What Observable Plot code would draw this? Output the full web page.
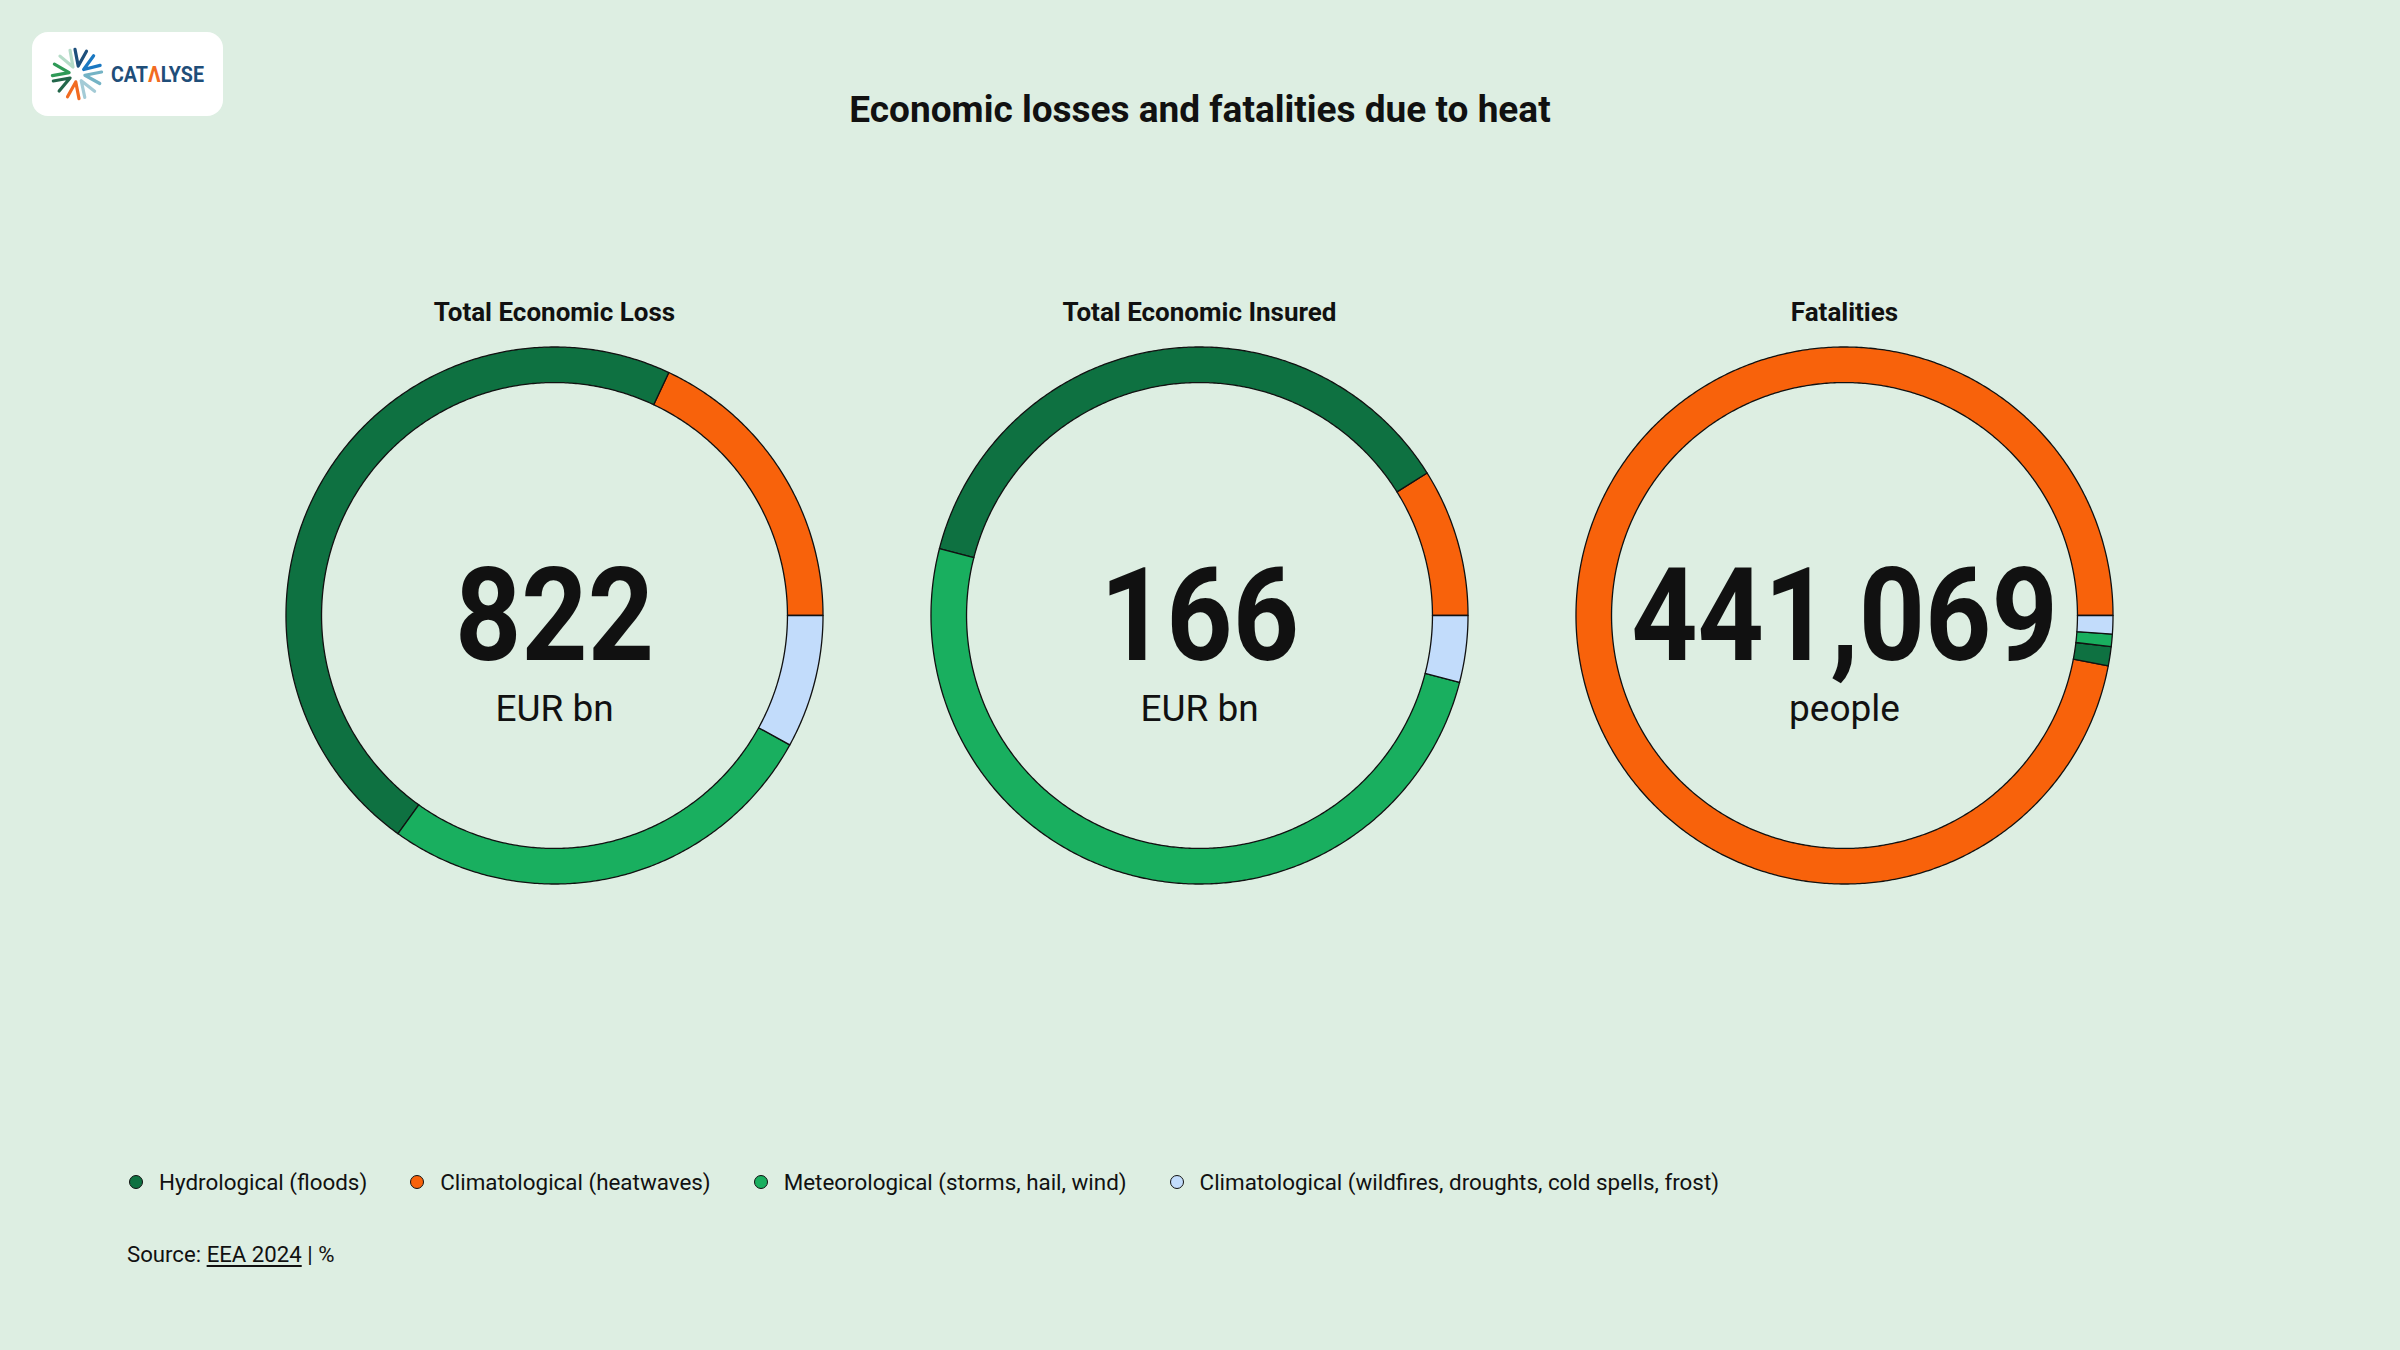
<!DOCTYPE html>
<html>
<head>
<meta charset="utf-8">
<script src="https://cdn.jsdelivr.net/npm/d3@7"></script>
<script src="https://cdn.jsdelivr.net/npm/@observablehq/plot@0.6"></script>
<style>
html, body { margin: 0; padding: 0; }
body { width: 2400px; height: 1350px; background: #ddeee2; position: relative; overflow: hidden; font-family: Roboto, sans-serif; color: #111; }
#logo { position: absolute; left: 32px; top: 32px; width: 191px; height: 84px; background: #fff; border-radius: 16px; }
#title { position: absolute; left: 0; width: 2400px; top: 91px; text-align: center; font-size: 37px; line-height: 37px; font-weight: 700; }
#chart { position: absolute; left: 0; top: 240px; }
#legend { position: absolute; left: 129px; top: 1171px; display: flex; align-items: center; height: 22px; font-size: 22.4px; line-height: 22px; }
.item { display: flex; align-items: center; margin-right: 43px; }
.dot { width: 12px; height: 12px; border-radius: 50%; border: 1.6px solid #111; margin-right: 16px; }
#source { position: absolute; left: 127px; top: 1243px; font-size: 22.2px; line-height: 22px; }
#source u { text-decoration-thickness: 2px; text-underline-offset: 3px; }
</style>
</head>
<body>
<div id="logo"></div>
<div id="title">Economic losses and fatalities due to heat</div>
<div id="chart"></div>
<div id="legend"></div>
<div id="source">Source: <u>EEA 2024</u> | %</div>
<script>
// ---- data ----
const panels = ["Total Economic Loss", "Total Economic Insured", "Fatalities"];
const totals = [822, 166, 441069];
const units = ["EUR bn", "EUR bn", "people"];
const categories = [
  "Hydrological (floods)",
  "Climatological (heatwaves)",
  "Meteorological (storms, hail, wind)",
  "Climatological (wildfires, droughts, cold spells, frost)"
];
const colors = ["#0e7141", "#f8620b", "#19af5f", "#c2dcfb"];
// slice order, counter-clockwise from 3 o'clock
const drawOrder = [1, 0, 2, 3];
const lossShares = [47.1, 18.0, 26.9, 8.0];
const insuredShares = [37.1, 8.9, 50.0, 4.0];
const fatalityShares = [1.15, 97.0, 0.75, 1.1];
const shares = [lossShares, insuredShares, fatalityShares];

// ---- ring geometry (in scale units) ----
const outerR = 0.959, innerR = 0.832;
const pts = [];
panels.forEach((panel, p) => {
  const vals = shares[p];
  const total = d3.sum(vals);
  let a = 0;
  drawOrder.forEach(ci => {
    const a0 = a, a1 = a + vals[ci] / total * 2 * Math.PI;
    a = a1;
    const n = Math.max(2, Math.ceil((a1 - a0) / (Math.PI / 360)));
    const key = panel + "|" + categories[ci];
    for (let i = 0; i <= n; i++) {
      const t = a0 + (a1 - a0) * i / n;
      pts.push({panel, category: categories[ci], key, x: outerR * Math.cos(t), y: outerR * Math.sin(t)});
    }
    for (let i = n; i >= 0; i--) {
      const t = a0 + (a1 - a0) * i / n;
      pts.push({panel, category: categories[ci], key, x: innerR * Math.cos(t), y: innerR * Math.sin(t)});
    }
  });
});
const centre = panels.map((panel, i) => ({panel, total: totals[i], unit: units[i]}));

const plot = Plot.plot({
  width: 2400,
  height: 670,
  marginTop: 95,
  marginBottom: 15,
  marginLeft: 274,
  marginRight: 276,
  style: {background: "transparent", fontFamily: "Roboto, sans-serif", color: "#111", overflow: "visible"},
  x: {domain: [-1, 1], axis: null},
  y: {domain: [-1, 1], axis: null},
  fx: {domain: panels, paddingInner: 85 / 645, paddingOuter: 0, label: null},
  color: {domain: categories, range: colors},
  marks: [
    Plot.axisFx({anchor: "top", tickSize: 0, tickPadding: 15, fontSize: 26, fontWeight: 700, label: null}),
    Plot.line(pts, {fx: "panel", x: "x", y: "y", z: "key", fill: "category", stroke: "#111", strokeWidth: 1.3, curve: "linear-closed"}),
    Plot.text(centre, {fx: "panel", frameAnchor: "middle", text: d => d3.format(",")(d.total), fontSize: 130, fontWeight: 700, dy: 3}),
    Plot.text(centre, {fx: "panel", frameAnchor: "middle", text: "unit", fontSize: 37, dy: 94})
  ]
});
// condensed look for the big centre numbers
d3.select(plot).selectAll("g[font-size='130'] text").each(function() {
  const tr = this.getAttribute("transform") || "";
  this.setAttribute("transform", tr + " scale(0.89,1)");
});
document.getElementById("chart").appendChild(plot);

// ---- legend ----
const legend = d3.select("#legend");
categories.forEach((c, i) => {
  const it = legend.append("div").attr("class", "item");
  it.append("div").attr("class", "dot").style("background", colors[i]);
  it.append("span").text(c);
});

// ---- logo ----
const logo = d3.select("#logo").append("svg").attr("width", 191).attr("height", 84);
const chevrons = [
  ["#b5dcc8", 120], ["#1d4f7c", 81], ["#1a78c2", 34], ["#74b3c5", -9],
  ["#a4cbd6", -58], ["#f26b21", -99], ["#23664a", -150], ["#2f9a57", 170]
];
const cx = 45, cy = 42;
chevrons.forEach(([col, deg]) => {
  const th = deg * Math.PI / 180, r0 = 8, L = 17, h = 20 * Math.PI / 180;
  const vx = cx + r0 * Math.cos(th), vy = cy - r0 * Math.sin(th);
  const p1 = [vx + L * Math.cos(th + h), vy - L * Math.sin(th + h)];
  const p2 = [vx + L * Math.cos(th - h), vy - L * Math.sin(th - h)];
  logo.append("polyline").attr("points", `${p1} ${vx},${vy} ${p2}`)
    .attr("fill", "none").attr("stroke", col).attr("stroke-width", 3.2)
    .attr("stroke-linecap", "round").attr("stroke-linejoin", "round");
});
const lt = logo.append("text").attr("x", 79).attr("y", 50).attr("font-size", 22)
  .attr("font-weight", 700).attr("font-family", "Roboto, sans-serif")
  .attr("textLength", 93).attr("lengthAdjust", "spacingAndGlyphs").attr("fill", "#1f4e79");
lt.append("tspan").text("CAT");
lt.append("tspan").attr("fill", "#f26b21").text("Λ");
lt.append("tspan").text("LYSE");
</script>
</body>
</html>
